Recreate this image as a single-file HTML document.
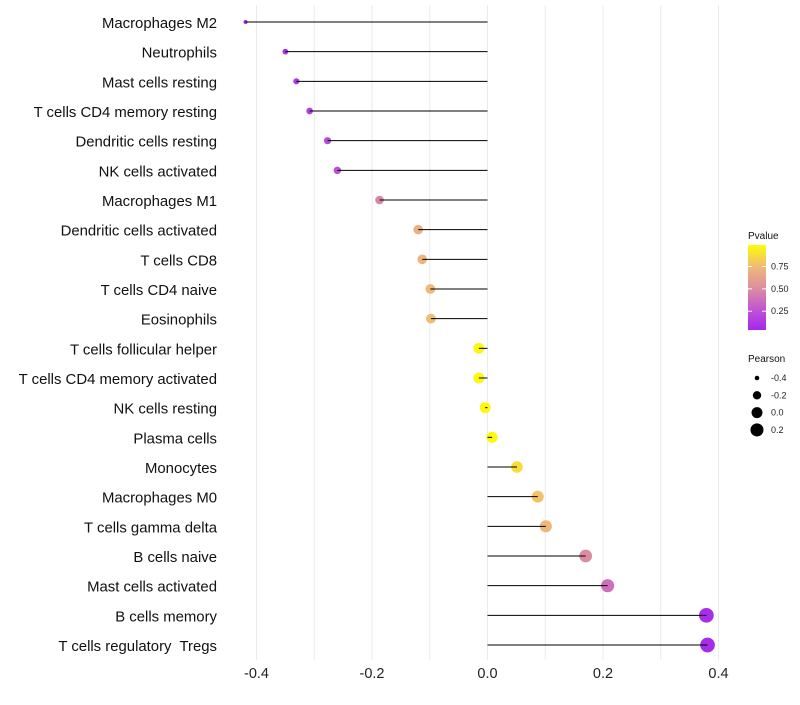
<!DOCTYPE html>
<html><head><meta charset="utf-8"><style>
body{margin:0;background:#fff;}
svg text{font-family:"Liberation Sans",sans-serif;white-space:pre;}
</style></head><body>
<svg id="c" width="800" height="700"></svg>
<script>
const categories=["Macrophages M2","Neutrophils","Mast cells resting","T cells CD4 memory resting","Dendritic cells resting","NK cells activated","Macrophages M1","Dendritic cells activated","T cells CD8","T cells CD4 naive","Eosinophils","T cells follicular helper","T cells CD4 memory activated","NK cells resting","Plasma cells","Monocytes","Macrophages M0","T cells gamma delta","B cells naive","Mast cells activated","B cells memory","T cells regulatory  Tregs"];
const pearson=[-0.419,-0.350,-0.331,-0.308,-0.277,-0.260,-0.187,-0.120,-0.113,-0.099,-0.098,-0.015,-0.015,-0.004,0.008,0.051,0.087,0.101,0.170,0.208,0.379,0.381];
const pvalue=[0.04,0.10,0.13,0.17,0.22,0.25,0.47,0.70,0.72,0.75,0.76,0.97,0.97,0.98,0.98,0.88,0.78,0.74,0.50,0.38,0.07,0.07];
const xTicks=[-0.4,-0.2,0.0,0.2,0.4];
const xGrid=[-0.4,-0.3,-0.2,-0.1,0,0.1,0.2,0.3,0.4];
const pTicks=[0.25,0.50,0.75];
const sizeTicks=[-0.4,-0.2,0.0,0.2];

const NS="http://www.w3.org/2000/svg";
const svg=document.getElementById('c');
function mk(t,a,p){const e=document.createElementNS(NS,t);for(const k in a)e.setAttribute(k,a[k]);(p||svg).appendChild(e);return e;}
const x=v=>487.5+v*577.5;
const y=i=>22+i*(623/21);
const rad=v=>Math.sqrt(4+(v+0.42)/0.8*50);
const stops=[[0,[160,32,240]],[0.25,[190,80,215]],[0.5,[220,140,160]],[0.75,[240,185,120]],[1,[255,255,0]]];
function col(p){p=Math.max(0,Math.min(1,p));for(let i=0;i<stops.length-1;i++){const a=stops[i],b=stops[i+1];if(p<=b[0]){const t=(p-a[0])/(b[0]-a[0]);const c=a[1].map((v,j)=>Math.round(v+(b[1][j]-v)*t));return `rgb(${c})`;}}return 'rgb(255,255,0)';}
const pScale=p=>330-(p-0.04)*(85/0.95);

xGrid.forEach(g=>{const l=mk('line',{x1:x(g),x2:x(g),y1:5,y2:660,stroke:'#ebebeb','stroke-width':1});

});
xTicks.forEach(t=>{const e=mk('text',{x:x(t),y:678,'text-anchor':'middle','font-size':14.5,fill:'#222'});e.textContent=t.toFixed(1);

});
categories.forEach((c,i)=>{
 const t=mk('text',{x:217,y:y(i)+6,'text-anchor':'end','font-size':14.9,fill:'#111'});t.textContent=c;
 
 
 const pt=mk('circle',{cx:x(pearson[i]),cy:y(i),r:rad(pearson[i]),fill:col(pvalue[i])});
 
 
 const ln=mk('line',{x1:x(0),x2:x(pearson[i]),y1:y(i),y2:y(i),stroke:'#000','stroke-width':1});
 
 
});
const lt=mk('text',{x:748,y:239,'font-size':10,fill:'#111'});lt.textContent='Pvalue';


const defs=mk('defs',{});const gr=mk('linearGradient',{id:'g',x1:0,y1:1,x2:0,y2:0},defs);
for(let k=0;k<=10;k++)mk('stop',{offset:k/10,'stop-color':col(0.04+k/10*0.95)},gr);
const bar=mk('rect',{x:748,y:245,width:18,height:85,fill:'url(#g)'});


pTicks.forEach(p=>{mk('line',{x1:748,x2:752,y1:pScale(p),y2:pScale(p),stroke:'#fff'});mk('line',{x1:762,x2:766,y1:pScale(p),y2:pScale(p),stroke:'#fff'});
 const e=mk('text',{x:771,y:pScale(p)+3,'font-size':9,fill:'#222'});e.textContent=p.toFixed(2);
 
 });
const st=mk('text',{x:748,y:362,'font-size':10,fill:'#111'});st.textContent='Pearson';


sizeTicks.forEach((s,k)=>{const cy=378+k*17.3;
 const c=mk('circle',{cx:757,cy:cy,r:rad(s),fill:'#000'});
 
 
 const e=mk('text',{x:771,y:cy+3,'font-size':9,fill:'#222'});e.textContent=s.toFixed(1);
 
 });
</script>
</body></html>
